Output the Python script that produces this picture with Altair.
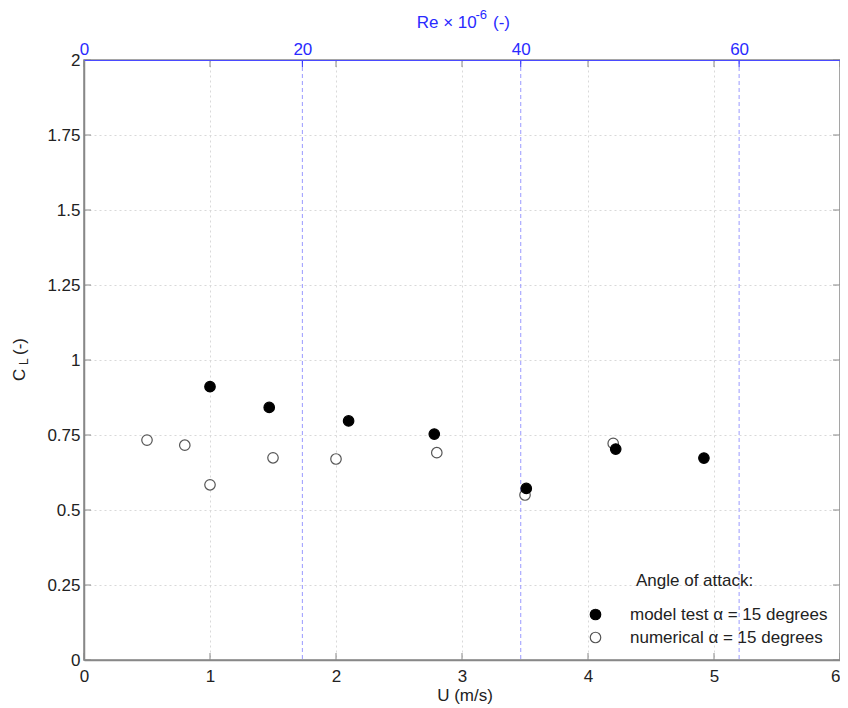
import altair as alt
import pandas as pd

# ---- data ----
U_MODEL = [1.0, 1.47, 2.1, 2.78, 3.51, 4.22, 4.92]
CL_MODEL = [0.911, 0.842, 0.797, 0.753, 0.572, 0.703, 0.673]
U_NUM = [0.5, 0.8, 1.0, 1.5, 2.0, 2.8, 3.5, 4.2]
CL_NUM = [0.733, 0.716, 0.584, 0.674, 0.670, 0.691, 0.550, 0.722]
SERIES = ["model test \u03b1 = 15 degrees", "numerical \u03b1 = 15 degrees"]
U_TICKS = [0, 1, 2, 3, 4, 5, 6]
CL_TICKS = [0, 0.25, 0.5, 0.75, 1, 1.25, 1.5, 1.75, 2]
RE_TICKS = [0, 20, 40, 60]
RE_LINES = [20, 40, 60]
RE_MAX = 69.24

W, H = 756, 600
BLUE = "#2a2aff"
FONT = "Liberation Sans"
TXT = "#222222"
AX = "#888888"

points_df = pd.DataFrame({
    "U": U_NUM + U_MODEL,
    "CL": CL_NUM + CL_MODEL,
    "series": [SERIES[1]] * len(U_NUM) + [SERIES[0]] * len(U_MODEL),
})

x_scale = alt.Scale(domain=[0, 6], nice=False, zero=False)
y_scale = alt.Scale(domain=[0, 2], nice=False, zero=False)
re_scale = alt.Scale(domain=[0, RE_MAX], nice=False, zero=False)

x_axis = alt.Axis(orient="bottom", values=U_TICKS, labelExpr="format(datum.value, '~g')",
                  labelAlign=alt.ExprRef(expr="datum.value >= 6 ? 'right' : 'center'"),
                  title=None, grid=True, gridDash=[2, 3], gridColor="#d9d9d9",
                  ticks=False, tickSize=0, domainColor=AX, domainWidth=1.5,
                  labelFont=FONT, labelFontSize=17, labelColor=TXT, labelPadding=8,
                  labelFlush=False)
y_axis = alt.Axis(orient="left", values=CL_TICKS, labelExpr="format(datum.value, '~g')",
                  title=None, grid=True, gridDash=[2, 3], gridColor="#d9d9d9",
                  ticks=False, tickSize=0, domainColor=AX, domainWidth=1.5,
                  labelFont=FONT, labelFontSize=17, labelColor=TXT, labelPadding=4,
                  labelFlush=False)
re_axis = alt.Axis(orient="top", values=RE_TICKS, labelExpr="format(datum.value, '~g')",
                   title=None, grid=False,
                   ticks=False, tickSize=0, domainColor="#4a4aff", domainWidth=1.2,
                   labelFont=FONT, labelFontSize=17, labelColor=BLUE, labelPadding=2,
                   labelFlush=False, zindex=1)

legend = alt.Legend(title=None, orient="none", legendX=503, legendY=546,
                    labelFont=FONT, labelFontSize=17, labelColor=TXT, labelLimit=400,
                    symbolType="circle", symbolSize=110, symbolStrokeWidth=1.2,
                    labelOffset=26, rowPadding=5, padding=0)

points = alt.Chart(points_df).mark_circle(size=110, opacity=1, strokeWidth=1.2).encode(
    x=alt.X("U:Q", scale=x_scale, axis=x_axis),
    y=alt.Y("CL:Q", scale=y_scale, axis=y_axis),
    fill=alt.Fill("series:N", scale=alt.Scale(domain=SERIES, range=["black", "white"]), legend=legend),
    stroke=alt.Stroke("series:N", scale=alt.Scale(domain=SERIES, range=["black", "#555555"]), legend=legend),
)

u_tick_df = pd.DataFrame({"U": U_TICKS})
cl_tick_df = pd.DataFrame({"CL": CL_TICKS})
tick_bottom = alt.Chart(u_tick_df).mark_rule(color=AX).encode(
    x=alt.X("U:Q", scale=x_scale, axis=x_axis), y=alt.value(H), y2=alt.value(H - 7))
tick_top = alt.Chart(u_tick_df).mark_rule(color=AX).encode(
    x=alt.X("U:Q", scale=x_scale, axis=x_axis), y=alt.value(0), y2=alt.value(7))
tick_left = alt.Chart(cl_tick_df).mark_rule(color=AX).encode(
    y=alt.Y("CL:Q", scale=y_scale, axis=y_axis), x=alt.value(0), x2=alt.value(7))
tick_right = alt.Chart(cl_tick_df).mark_rule(color=AX).encode(
    y=alt.Y("CL:Q", scale=y_scale, axis=y_axis), x=alt.value(W), x2=alt.value(W - 7))


def label(text, x, y, size=17, color=TXT, angle=0, align="left"):
    return alt.Chart(pd.DataFrame({"t": [text]})).mark_text(
        align=align, baseline="alphabetic", fontSize=size, font=FONT,
        color=color, angle=angle).encode(text="t:N", x=alt.value(x), y=alt.value(y))


annotations = [
    # x-axis title
    label("U (m/s)", 381, 641, align="center"),
    # y-axis title C_L (-)
    label("C", -59, 321, angle=270),
    label("L", -56.5, 305, size=12, angle=270),
    label("(-)", -59, 295, angle=270),
    # top title Re x 10^-6 (-)
    label("Re \u00d7 10", 332.7, -31.7, color=BLUE),
    label("-6", 391.5, -41.5, size=13, color=BLUE),
    label("(-)", 409, -31.7, color=BLUE),
    # legend heading
    label("Angle of attack:", 552, 525.5),
]

layer_u = alt.layer(tick_bottom, tick_top, tick_left, tick_right, points, *annotations)

re_df = pd.DataFrame({"Re": RE_LINES})
re_lines = alt.Chart(re_df).mark_rule(color="#9a9aff", strokeDash=[4, 3], strokeWidth=1).encode(
    x=alt.X("Re:Q", scale=re_scale, axis=re_axis))
re_ticks = alt.Chart(re_df).mark_rule(color=BLUE).encode(
    x=alt.X("Re:Q", scale=re_scale, axis=re_axis), y=alt.value(0), y2=alt.value(7))
layer_re = alt.layer(re_lines, re_ticks)

chart = alt.layer(layer_re, layer_u).resolve_scale(x="independent").properties(
    width=W, height=H,
    padding={"left": 76, "top": 52, "right": 0, "bottom": 46},
    autosize=alt.AutoSizeParams(type="none"),
    background="white",
).configure_view(stroke=AX, strokeWidth=1.5)

chart.save("out.html", embed_options={"renderer": "svg", "actions": False})
